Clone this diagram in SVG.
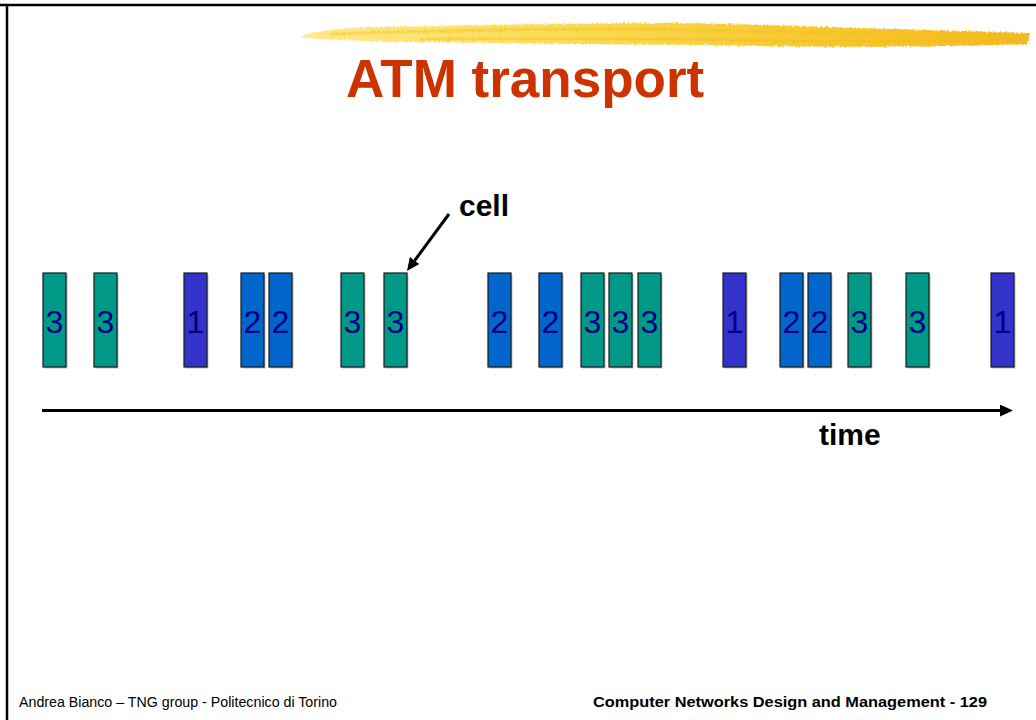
<svg xmlns="http://www.w3.org/2000/svg" width="1036" height="720" viewBox="0 0 1036 720">
  <defs>
    <linearGradient id="brush" x1="0" y1="0" x2="1" y2="0">
      <stop offset="0" stop-color="#FFE88A"/>
      <stop offset="0.35" stop-color="#FADC55"/>
      <stop offset="0.7" stop-color="#F7C830"/>
      <stop offset="1" stop-color="#F5B820"/>
    </linearGradient>
    <marker id="ah" markerUnits="userSpaceOnUse" markerWidth="13" markerHeight="12" refX="0" refY="6" orient="auto">
      <path d="M0,0 L13,6 L0,12 z" fill="#000"/>
    </marker>
    <filter id="rough" x="-2%" y="-50%" width="104%" height="200%">
      <feTurbulence type="fractalNoise" baseFrequency="0.9 0.2" numOctaves="2" seed="3" result="n"/>
      <feDisplacementMap in="SourceGraphic" in2="n" scale="4"/>
    </filter>
  </defs>
  <style>
    .cell rect.s { fill: #BDBDBD; }
    .cell rect.b { stroke: #1a1a1a; stroke-width: 1.2; }
    .cell text { font-family: "Liberation Sans", Arial, sans-serif; font-size: 32px; fill: #000080; text-anchor: middle; }
    .t3 rect.b { fill: #009988; }
    .t2 rect.b { fill: #0066CC; }
    .t1 rect.b { fill: #3333CC; }
    .lbl { font-family: "Liberation Sans", Arial, sans-serif; font-weight: bold; font-size: 30px; fill: #000; }
    .foot { font-family: "Liberation Sans", Arial, sans-serif; font-size: 14px; fill: #000; }
  </style>
  <rect x="0" y="0" width="1036" height="720" fill="#fff"/>
  <g id="frame" stroke="#000" stroke-width="2.5" fill="none">
    <line x1="0" y1="5" x2="1036" y2="5"/>
    <line x1="7" y1="4" x2="7" y2="720"/>
  </g>
  <g id="brushstroke" filter="url(#rough)">
    <path d="M300,37 C315,31 335,28 380,27 C480,25 600,23 690,23 C780,25 880,29 1030,33 L1028,44 C900,48 800,47 700,45 C600,44 480,43 400,42 C360,41 325,40 300,37 z" fill="url(#brush)"/>
    <path d="M330,34 C450,30 600,28 700,30 C820,32 920,35 1025,37" stroke="#F2C020" stroke-width="3" fill="none" opacity="0.45"/>
    <path d="M420,39 C550,38 680,39 800,41 C900,42 960,41 1020,40" stroke="#F0B818" stroke-width="2" fill="none" opacity="0.45"/>
  </g>
  <text id="title" x="346" y="97" font-family="Liberation Sans, Arial, sans-serif" font-weight="bold" font-size="53" fill="#CC3300">ATM transport</text>

  <g id="connectors">
    <line x1="42" y1="410.5" x2="1000" y2="410.5" stroke="#000" stroke-width="3" marker-end="url(#ah)"/>
    <line x1="449" y1="214" x2="414.7" y2="260.5" stroke="#000" stroke-width="3" marker-end="url(#ah)"/>
  </g>

  <g id="label-cell"><text class="lbl" x="459" y="216">cell</text></g>
  <g id="label-time"><text class="lbl" x="819" y="445">time</text></g>

  <g id="cell1" class="cell t3"><rect class="s" x="44.5" y="274.5" width="23" height="94"/><rect class="b" x="43" y="273" width="23" height="94"/><text x="54.5" y="333">3</text></g>
  <g id="cell2" class="cell t3"><rect class="s" x="95.5" y="274.5" width="23" height="94"/><rect class="b" x="94" y="273" width="23" height="94"/><text x="105.5" y="333">3</text></g>
  <g id="cell3" class="cell t1"><rect class="s" x="185.5" y="274.5" width="23" height="94"/><rect class="b" x="184" y="273" width="23" height="94"/><text x="195.5" y="333">1</text></g>
  <g id="cell4" class="cell t2"><rect class="s" x="242.5" y="274.5" width="23" height="94"/><rect class="b" x="241" y="273" width="23" height="94"/><text x="252.5" y="333">2</text></g>
  <g id="cell5" class="cell t2"><rect class="s" x="270.5" y="274.5" width="23" height="94"/><rect class="b" x="269" y="273" width="23" height="94"/><text x="280.5" y="333">2</text></g>
  <g id="cell6" class="cell t3"><rect class="s" x="342.5" y="274.5" width="23" height="94"/><rect class="b" x="341" y="273" width="23" height="94"/><text x="352.5" y="333">3</text></g>
  <g id="cell7" class="cell t3"><rect class="s" x="385.5" y="274.5" width="23" height="94"/><rect class="b" x="384" y="273" width="23" height="94"/><text x="395.5" y="333">3</text></g>
  <g id="cell8" class="cell t2"><rect class="s" x="489.5" y="274.5" width="23" height="94"/><rect class="b" x="488" y="273" width="23" height="94"/><text x="499.5" y="333">2</text></g>
  <g id="cell9" class="cell t2"><rect class="s" x="540.5" y="274.5" width="23" height="94"/><rect class="b" x="539" y="273" width="23" height="94"/><text x="550.5" y="333">2</text></g>
  <g id="cell10" class="cell t3"><rect class="s" x="582.5" y="274.5" width="23" height="94"/><rect class="b" x="581" y="273" width="23" height="94"/><text x="592.5" y="333">3</text></g>
  <g id="cell11" class="cell t3"><rect class="s" x="610.5" y="274.5" width="23" height="94"/><rect class="b" x="609" y="273" width="23" height="94"/><text x="620.5" y="333">3</text></g>
  <g id="cell12" class="cell t3"><rect class="s" x="639.5" y="274.5" width="23" height="94"/><rect class="b" x="638" y="273" width="23" height="94"/><text x="649.5" y="333">3</text></g>
  <g id="cell13" class="cell t1"><rect class="s" x="724.5" y="274.5" width="23" height="94"/><rect class="b" x="723" y="273" width="23" height="94"/><text x="734.5" y="333">1</text></g>
  <g id="cell14" class="cell t2"><rect class="s" x="781.5" y="274.5" width="23" height="94"/><rect class="b" x="780" y="273" width="23" height="94"/><text x="791.5" y="333">2</text></g>
  <g id="cell15" class="cell t2"><rect class="s" x="809.5" y="274.5" width="23" height="94"/><rect class="b" x="808" y="273" width="23" height="94"/><text x="819.5" y="333">2</text></g>
  <g id="cell16" class="cell t3"><rect class="s" x="849.5" y="274.5" width="23" height="94"/><rect class="b" x="848" y="273" width="23" height="94"/><text x="859.5" y="333">3</text></g>
  <g id="cell17" class="cell t3"><rect class="s" x="907.5" y="274.5" width="23" height="94"/><rect class="b" x="906" y="273" width="23" height="94"/><text x="917.5" y="333">3</text></g>
  <g id="cell18" class="cell t1"><rect class="s" x="992.5" y="274.5" width="23" height="94"/><rect class="b" x="991" y="273" width="23" height="94"/><text x="1002.5" y="333">1</text></g>

  <g id="footer">
    <text class="foot" x="19" y="707" textLength="318" lengthAdjust="spacingAndGlyphs">Andrea Bianco – TNG group - Politecnico di Torino</text>
    <text class="foot" x="593" y="707" font-weight="bold" textLength="394" lengthAdjust="spacingAndGlyphs">Computer Networks Design and Management - 129</text>
  </g>
</svg>
